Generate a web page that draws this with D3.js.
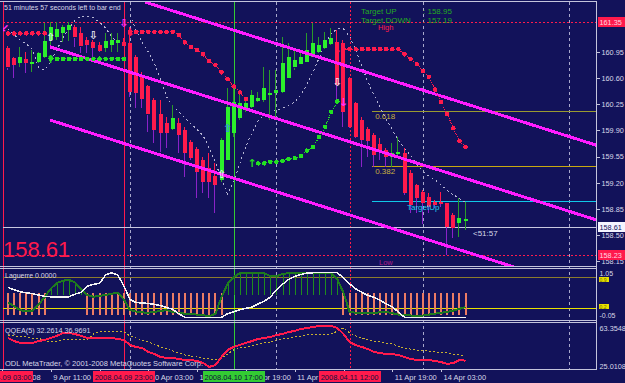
<!DOCTYPE html>
<html>
<head>
<meta charset="utf-8">
<script src="https://cdnjs.cloudflare.com/ajax/libs/d3/7.8.5/d3.min.js"></script>
<style>
  body { margin: 0; background: #12125a; overflow: hidden; }
  svg { display: block; shape-rendering: crispEdges; }
  text { font-family: 'Liberation Sans', Arial, sans-serif; font-size: 7.5px; fill: #d8d8e8; }
</style>
</head>
<body>
<div id="chart"></div>
<script>
// ---- hourly bars, 9 Apr 04:00 .. 14 Apr 07:00 ----
var barOpen = [161.00,160.87,160.80,160.86,160.81,160.82,160.88,161.11,161.15,161.20,161.24,161.28,161.20,161.11,161.08,161.04,161.00,161.04,161.07,161.08,
               161.07,160.88,160.62,160.49,160.31,160.12,160.00,159.92,160.00,159.91,159.75,159.65,159.50,159.40,159.29,159.24,159.50,159.87,160.07,160.17,
               160.21,160.29,160.31,160.37,160.40,160.41,160.60,160.74,160.78,160.82,160.88,160.95,161.00,161.06,161.08,161.07,160.60,160.27,160.04,159.92,
               159.84,159.72,159.64,159.54,159.58,159.60,159.33,159.17,159.08,159.01,158.94,158.94,158.93,158.77,158.66,158.70];
var barHigh = [161.03,160.88,161.02,160.95,160.98,160.95,161.34,161.35,161.35,161.31,161.35,161.31,161.28,161.15,161.11,161.08,161.20,161.20,161.20,161.14,
               161.28,160.91,160.68,160.51,160.33,160.31,160.08,160.24,160.07,159.95,159.77,159.68,159.54,159.60,159.46,159.80,160.47,160.48,160.41,160.35,
               160.44,160.41,160.75,160.71,160.71,161.15,161.07,160.98,160.95,161.20,161.34,161.15,161.22,161.27,161.24,161.11,160.62,160.28,160.08,159.95,
               159.87,159.80,159.66,159.73,159.81,159.66,159.37,159.19,159.10,159.06,158.97,159.08,158.93,158.79,158.99,158.94];
var barLow  = [160.71,160.60,160.75,160.67,160.68,160.80,160.87,161.04,161.11,161.08,161.10,161.02,160.94,160.94,160.88,160.95,160.95,160.95,160.95,161.02,
               160.35,160.20,160.20,159.88,159.73,159.61,159.66,159.91,159.60,159.28,159.50,158.99,159.06,158.99,158.79,159.21,159.50,159.81,160.04,160.15,
               160.20,160.28,160.28,160.04,160.07,160.40,160.60,160.71,160.78,160.82,160.88,160.94,160.99,161.04,160.28,159.95,159.93,159.80,159.41,159.54,
               159.41,159.50,159.41,159.41,159.54,159.04,158.79,158.79,158.65,158.79,158.86,158.88,158.23,158.46,158.47,158.57];
var barClose = [160.74,160.78,160.88,160.80,160.82,160.94,161.10,161.28,161.26,161.28,161.31,161.14,161.02,161.04,161.00,160.96,161.10,161.11,161.11,161.02,
               160.41,160.40,160.33,160.11,159.91,159.87,159.87,160.07,159.84,159.60,159.53,159.34,159.21,159.21,159.17,159.77,160.21,160.28,160.27,160.27,
               160.37,160.33,160.47,160.40,160.44,160.80,160.88,160.84,160.88,160.98,161.07,161.04,161.11,161.14,160.51,160.15,159.95,159.81,159.77,159.76,
               159.57,159.64,159.54,159.60,159.61,159.06,158.90,158.99,158.93,158.88,158.90,158.91,158.61,158.59,158.73,158.71];

// dotted envelope curves
var dashA = [161.26,161.18,161.11,161.06,160.99,160.74,160.71,160.82,160.98,161.14,161.27,161.38,161.43,161.43,161.41,161.35,161.27,161.16,161.06,null,
             null,null,null,null,null,null,null,null,null,null,null,null,null,null,null,null,null,null,null,null,
             null,null,null,null,null,null,null,null,null,null,null,null,null,null,null,null,null,null,null,null,
             null,null,null,null,null,null,null,null,null,null,null,null,null,null,null,null];
var dashB = [null,null,null,null,null,null,null,null,null,null,null,null,null,null,null,null,null,null,null,null,
             161.45,161.24,161.08,160.95,160.80,160.58,160.35,160.23,160.15,160.07,159.99,159.91,159.83,159.66,159.48,159.24,159.05,159.21,159.46,159.69,
             159.87,160.03,160.11,160.15,160.17,160.20,160.23,160.28,160.37,160.52,160.68,160.87,161.06,161.20,161.26,161.26,161.16,160.98,160.76,160.55,
             160.37,160.21,160.05,159.91,159.77,159.66,159.57,159.45,159.36,159.29,159.24,159.17,159.10,159.04,158.99,158.94];

// trailing stop dots
var sarRed = [161.20,161.20,161.20,161.20,161.20,161.20,161.20,null,null,null,null,null,null,null,null,null,null,null,null,null,
              161.22,161.22,161.22,161.22,161.22,161.22,161.22,161.22,161.18,161.08,161.02,160.98,160.92,160.83,160.78,160.68,160.59,160.49,160.41,160.32,
              null,null,null,null,null,null,null,null,null,null,null,null,null,null,null,160.99,160.99,160.99,160.99,160.99,
              160.99,160.99,160.99,160.99,160.99,160.92,160.86,160.79,160.70,160.62,160.45,160.28,160.12,159.93,159.76,159.68];
var sarGreen = [null,null,null,null,null,null,null,160.86,160.86,160.86,160.86,160.86,160.86,160.86,160.86,160.86,160.86,160.86,160.86,160.86,
                null,null,null,null,null,null,null,null,null,null,null,null,null,null,null,null,null,null,null,null,
                null,159.46,159.46,159.48,159.48,159.49,159.52,159.53,159.56,159.63,159.68,159.81,159.95,160.15,160.29,null,null,null,null,null,
                null,null,null,null,null,null,null,null,null,null,null,null,null,null,null,null];

// Laguerre pane
var lagWhite = [0.67,0.62,0.57,0.55,0.53,0.50,0.47,0.46,0.46,0.46,0.46,0.52,0.56,0.70,0.74,0.76,0.95,1.00,0.95,0.70,
                0.40,0.33,0.32,0.31,0.29,0.26,0.22,0.18,0.08,0,0,0,0,0,0,0,0.08,0.12,0.17,0.20,
                0.23,0.30,0.36,0.45,0.62,0.74,0.85,0.92,0.96,0.99,1,1,1,1,1,0.88,0.75,0.64,0.56,0.49,
                0.45,0.38,0.30,0.23,0.12,0,0,0,0,0,0,0,0,0,0,0];
var lagGreen = [0.33,0.25,0.16,0.13,0.14,0.28,0.45,0.64,0.77,0.82,0.84,0.78,0.62,0.50,0.46,0.48,0.50,0.53,0.55,0.40,
                0.16,0.13,0.11,0.10,0.12,0.14,0.16,0.12,0.10,0.08,0.07,0.06,0.05,0.02,0.08,0.45,0.75,0.90,0.99,0.99,
                0.99,0.99,0.99,0.92,0.92,0.97,0.99,0.99,0.99,0.99,0.99,0.99,0.99,0.99,0.85,0.55,0.12,0.10,0.10,0.10,
                0.10,0.11,0.12,0.09,0.06,0.05,0.04,0.03,0.04,0.06,0.08,0.10,0.12,0.15,0.19,0.23];
var lagLevels = [0.9, 0.2];

// QQEA pane
var qqeRed = [52.0,49.4,47.7,47.7,47.7,49.4,50.3,52.0,53.8,56.4,56.4,55.5,53.8,52.0,52.0,52.0,52.0,52.0,51.2,50.3,
              45.9,44.2,43.3,39.8,38.1,35.5,34.6,34.6,33.7,32.9,32.9,32.0,30.2,26.8,28.5,35.5,41.6,44.2,45.9,47.7,
              49.4,51.2,52.0,52.9,54.6,55.5,57.3,58.1,59.9,60.7,61.6,62.5,62.5,62.5,60.7,55.5,48.6,45.9,44.2,42.4,
              39.8,39.0,38.1,38.1,37.2,35.5,33.7,32.9,32.9,32.9,32.0,31.1,29.4,30.2,32.9,32.2614];
var qqeYellow = [53.8,53.8,52.9,52.9,52.0,52.0,49.4,48.5,49.4,50.3,50.3,50.3,50.3,50.3,55.5,57.3,57.3,57.3,57.3,57.3,
                 53.8,52.0,50.3,48.5,46.8,44.2,42.4,40.7,39.0,37.2,36.3,35.5,34.6,33.7,32.9,34.6,38.1,41.6,43.3,44.2,
                 45.0,46.8,47.7,48.5,50.3,51.2,52.0,52.9,53.8,54.6,55.5,55.5,55.5,55.5,58.1,60.7,56.4,53.8,52.0,50.3,
                 49.4,48.5,47.7,46.8,45.0,43.3,42.4,41.6,40.7,40.7,39.8,39.8,39.0,38.1,37.2,36.9691];

// levels and objects
var priceTicks = [160.95, 160.60, 160.25, 159.90, 159.55, 159.20, 158.85, 158.50, 158.15];
var highPrice = 161.35, lowPrice = 158.23, lastPrice = 158.61;
var fibNames = ["0.618", "0.382"];
var fibPrices = [160.16, 159.42];
var fibStartBar = 59.7;
var targetUp = 158.95, targetDown = 157.19;
var channelStart = [[22.46, 161.62], [6.89, 161.02], [6.89, 160.04]];
var channelEnd = [[96.56, 159.70], [96.56, 158.70], [96.56, 157.72]];

// time axis
var tickBars = [-1, 7, 15, 23, 31, 39, 47, 55, 63, 71];
var tickLabels = ["9 Apr 2008", "9 Apr 11:00", "", "10 Apr 03:00", "10 Apr 11:00", "10 Apr 19:00",
                  "11 Apr 03:00", "", "11 Apr 19:00", "14 Apr 03:00"];
var gridBars = [20, 44, 68, 92];
var markBars = [-0.9, 19, 37, 56];
var markLabels = ["2008.04.09 03:00", "2008.04.09 23:00", "2008.04.10 17:00", "2008.04.11 12:00"];
var markColors = ["#ff1a4c", "#ff1a4c", "#33cc33", "#ff1a4c"];
var markDashed = [false, false, false, true];

// signal arrows: bar, price, glyph, colour
var arrows = [
  [7, 161.15, "\u21e7", "#e8e8f4"], [7, 160.86, "\u2191", "#22dd22"], [14, 161.18, "\u21e9", "#e8e8f4"],
  [19, 161.34, "\u21e9", "#ff30ff"], [20, 161.22, "\u2193", "#ff1a4c"], [35, 159.32, "\u21e7", "#e8e8f4"],
  [36, 159.93, "\u21e7", "#3a8ae8"], [40, 159.46, "\u2191", "#22dd22"], [54, 160.99, "\u2193", "#ff1a4c"],
  [54, 160.55, "\u21e9", "#e8e8f4"], [55, 160.28, "\u2193", "#ff30ff"], [-0.6, 161.27, "\u2199", "#ff30ff"]
];

var width = 625, height = 383;
var axisX = 596.5;
var mainTop = 2, mainBottom = 266, lagTop = 268, lagBottom = 320, qqeTop = 322, qqeBottom = 369;

var bullBody = "#2cf02c", bullWick = "#2a9a2a", bearBody = "#ff1a4c", bearWick = "#8a22c8";
var frameColor = "#c4c4dc";

var svg = d3.select("#chart").append("svg")
    .attr("width", width)
    .attr("height", height);
svg.append("rect").attr("width", width).attr("height", height).attr("fill", "#12125a");

var defs = svg.append("defs");
function addClip(id, y0, y1) {
    defs.append("clipPath").attr("id", id)
        .append("rect").attr("x", 3).attr("y", y0).attr("width", axisX - 3).attr("height", y1 - y0);
}
addClip("clipMain", mainTop, mainBottom);
addClip("clipLag", lagTop, lagBottom);
addClip("clipQqe", qqeTop, qqeBottom);

var x = d3.scaleLinear().domain([0, 75]).range([8, 465.5]);
var yPrice = d3.scaleLinear().domain([158.15, 161.35]).range([261.2, 22.2]);
var yLag = d3.scaleLinear().domain([-0.05, 1.05]).range([319.5, 270.5]);
var yQqe = d3.scaleLinear().domain([25.0108, 63.3548]).range([369, 325]);

function px(i) { return Math.round(x(i)) + 0.5; }
function py(v) { return Math.round(yPrice(v)) + 0.5; }
var bars = d3.range(barOpen.length);

// grid and vertical marker lines (through every pane)
var back = svg.append("g");
back.selectAll(".grid").data(gridBars).enter().append("line")
    .attr("x1", function (d) { return px(d); })
    .attr("x2", function (d) { return px(d); })
    .attr("y1", mainTop).attr("y2", qqeBottom)
    .attr("stroke", "#a8a8cc")
    .attr("stroke-dasharray", "3,3");
back.selectAll(".vmark").data(markBars).enter().append("line")
    .attr("x1", function (d) { return px(d); })
    .attr("x2", function (d) { return px(d); })
    .attr("y1", mainTop).attr("y2", qqeBottom)
    .attr("stroke", function (d, i) { return markColors[i]; })
    .attr("stroke-dasharray", function (d, i) { return markDashed[i] ? "2,2" : null; });

// ---------- main price pane ----------
var main = svg.append("g").attr("clip-path", "url(#clipMain)");

main.selectAll(".hl").data([highPrice, lowPrice]).enter().append("line")
    .attr("x1", 3).attr("x2", axisX)
    .attr("y1", function (d) { return py(d); })
    .attr("y2", function (d) { return py(d); })
    .attr("stroke", "#ff1a4c")
    .attr("stroke-dasharray", "2,2");
main.append("line")
    .attr("x1", 3).attr("x2", axisX)
    .attr("y1", py(lastPrice)).attr("y2", py(lastPrice))
    .attr("stroke", "#c8c8e0");

// fibo levels and target
main.selectAll(".fib").data(fibPrices).enter().append("line")
    .attr("x1", x(fibStartBar)).attr("x2", axisX)
    .attr("y1", function (d) { return py(d); })
    .attr("y2", function (d) { return py(d); })
    .attr("stroke", function (d, i) { return i == 0 ? "#9a9a30" : "#c8a810"; });
main.selectAll(".fibText").data(fibPrices).enter().append("text")
    .attr("x", x(fibStartBar) + 3)
    .attr("y", function (d) { return yPrice(d) + 8; })
    .style("fill", "#c8b040")
    .style("font-size", "8px")
    .text(function (d, i) { return fibNames[i]; });
main.append("line")
    .attr("x1", x(fibStartBar)).attr("x2", axisX)
    .attr("y1", py(targetUp)).attr("y2", py(targetUp))
    .attr("stroke", "#10c8e8");

// dotted envelope curves
var curve = d3.line()
    .defined(function (d) { return d[1] != null; })
    .x(function (d) { return x(d[0]); })
    .y(function (d) { return yPrice(d[1]); });
[dashA, dashB].forEach(function (arr) {
    main.append("path")
        .datum(bars.map(function (i) { return [i, arr[i]]; }))
        .attr("d", curve)
        .attr("fill", "none")
        .attr("stroke", "#b4b4d4")
        .attr("stroke-dasharray", "2,3");
});

// candles
function isBull(i) { return barClose[i] >= barOpen[i]; }
var candles = main.append("g");
candles.selectAll(".wickUp").data(bars).enter().append("line")
    .attr("x1", function (i) { return Math.round(x(i)) - 0.5; })
    .attr("x2", function (i) { return Math.round(x(i)) - 0.5; })
    .attr("y1", function (i) { return yPrice(barHigh[i]); })
    .attr("y2", function (i) { return yPrice(Math.max(barOpen[i], barClose[i])); })
    .attr("stroke", function (i) { return isBull(i) ? bullWick : bearBody; });
candles.selectAll(".wickDn").data(bars).enter().append("line")
    .attr("x1", function (i) { return Math.round(x(i)) - 0.5; })
    .attr("x2", function (i) { return Math.round(x(i)) - 0.5; })
    .attr("y1", function (i) { return yPrice(Math.min(barOpen[i], barClose[i])); })
    .attr("y2", function (i) { return yPrice(barLow[i]); })
    .attr("stroke", function (i) { return isBull(i) ? bullWick : bearWick; });
candles.selectAll(".body").data(bars).enter().append("rect")
    .attr("x", function (i) { return Math.round(x(i)) - 2; })
    .attr("width", 4)
    .attr("y", function (i) { return Math.round(yPrice(Math.max(barOpen[i], barClose[i]))); })
    .attr("height", function (i) {
        return Math.max(2, Math.round(Math.abs(yPrice(barOpen[i]) - yPrice(barClose[i]))));
    })
    .attr("fill", function (i) { return isBull(i) ? bullBody : bearBody; });

// regression channel
main.selectAll(".chan").data(channelStart).enter().append("line")
    .attr("x1", function (d) { return x(d[0]); })
    .attr("y1", function (d) { return yPrice(d[1]); })
    .attr("x2", function (d, i) { return x(channelEnd[i][0]); })
    .attr("y2", function (d, i) { return yPrice(channelEnd[i][1]); })
    .attr("stroke", "#ff1cff")
    .attr("stroke-width", 3);

main.append("text")
    .attr("x", 407).attr("y", yPrice(targetUp) + 9)
    .style("fill", "#20d0f0")
    .style("font-size", "8px")
    .text("TargetUp");

// trailing stop dots
function drawDots(arr, color) {
    main.append("path")
        .datum(bars.map(function (i) { return [i, arr[i]]; }))
        .attr("d", curve)
        .attr("fill", "none")
        .attr("stroke", color)
        .attr("stroke-dasharray", "1,1");
    main.selectAll(null).data(bars.filter(function (i) { return arr[i] != null; })).enter().append("circle")
        .attr("cx", function (i) { return x(i); })
        .attr("cy", function (i) { return yPrice(arr[i]); })
        .attr("r", 2.3)
        .attr("fill", color);
}
drawDots(sarRed, "#ff1a4c");
drawDots(sarGreen, "#22e022");

// arrows
main.selectAll(".arrow").data(arrows).enter().append("text")
    .attr("x", function (d) { return x(d[0]); })
    .attr("y", function (d) { return yPrice(d[1]) + 4; })
    .attr("text-anchor", "middle")
    .style("font-family", "'DejaVu Sans', sans-serif")
    .style("font-size", "11px")
    .style("font-weight", "bold")
    .style("fill", function (d) { return d[3]; })
    .text(function (d) { return d[2]; });

// chart texts
svg.append("text").attr("x", 4).attr("y", 9.5).style("font-size", "7px")
    .text("51 minutes 57 seconds left to bar end");
svg.append("text").attr("x", 361).attr("y", 13.5).style("fill", "#22aa22").style("font-size", "8px").text("Target UP");
svg.append("text").attr("x", 423).attr("y", 13.5).style("fill", "#22aa22").style("font-size", "8px").text(": " + targetUp.toFixed(2));
svg.append("text").attr("x", 361).attr("y", 23).style("fill", "#22aa22").style("font-size", "8px").text("Target DOWN");
svg.append("text").attr("x", 423).attr("y", 23).style("fill", "#22aa22").style("font-size", "8px").text(": " + targetDown.toFixed(2));
svg.append("text").attr("x", 378).attr("y", 29.5).style("fill", "#ff1a4c").text("High");
svg.append("text").attr("x", 379).attr("y", 264.5).style("fill", "#b0208a").text("Low");
svg.append("text").attr("x", 473).attr("y", 236).style("font-size", "8px").text("<51:57");
svg.append("text").attr("x", 3).attr("y", 256.5)
    .style("font-size", "22px")
    .style("fill", "#ff1a4c")
    .text(lastPrice.toFixed(2));

// ---------- Laguerre pane ----------
var lag = svg.append("g").attr("clip-path", "url(#clipLag)");
lag.selectAll(".lvl").data(lagLevels).enter().append("line")
    .attr("x1", 3).attr("x2", axisX)
    .attr("y1", function (d) { return Math.round(yLag(d)) + 0.5; })
    .attr("y2", function (d) { return Math.round(yLag(d)) + 0.5; })
    .attr("stroke", function (d, i) { return i == 0 ? "#8c7c2c" : "#e8e000"; });
lag.selectAll(".histHi").data(bars.filter(function (i) { return lagGreen[i] >= 0.6; })).enter().append("line")
    .attr("x1", function (i) { return px(i); })
    .attr("x2", function (i) { return px(i); })
    .attr("y1", yLag(0.5))
    .attr("y2", function (i) { return yLag(lagGreen[i]); })
    .attr("stroke", "#1e8c1e")
    .attr("stroke-width", 1.5);
lag.selectAll(".histLo").data(bars.filter(function (i) { return lagGreen[i] < 0.6; })).enter().append("rect")
    .attr("x", function (i) { return Math.round(x(i)) - 1; })
    .attr("width", 2)
    .attr("y", yLag(0.54))
    .attr("height", yLag(0.05) - yLag(0.54))
    .attr("fill", "#ec7c64");
var lagLine = d3.line().x(function (d, i) { return x(i); }).y(function (d) { return yLag(d); });
lag.append("path").datum(lagGreen).attr("d", lagLine)
    .attr("fill", "none").attr("stroke", "#1e7a1e").attr("stroke-width", 2);
lag.append("path").datum(lagWhite).attr("d", lagLine)
    .attr("fill", "none").attr("stroke", "#f4f4f4").attr("stroke-width", 1.5);
svg.append("text").attr("x", 5).attr("y", 278).style("font-size", "7px").text("Laguerre 0.0000");

// ---------- QQEA pane ----------
var qqe = svg.append("g").attr("clip-path", "url(#clipQqe)");
var qqeLine = d3.line().x(function (d, i) { return x(i); }).y(function (d) { return yQqe(d); });
qqe.append("path").datum(qqeYellow).attr("d", qqeLine)
    .attr("fill", "none").attr("stroke", "#c8b030").attr("stroke-dasharray", "2,2");
qqe.append("path").datum(qqeRed).attr("d", qqeLine)
    .attr("fill", "none").attr("stroke", "#ff1a4c").attr("stroke-width", 2);
svg.append("text").attr("x", 5).attr("y", 333).style("font-size", "7.2px")
    .text("QQEA(5) " + qqeRed[qqeRed.length - 1].toFixed(4) + " " + qqeYellow[qqeYellow.length - 1].toFixed(4));
svg.append("text").attr("x", 5).attr("y", 366)
    .text("ODL MetaTrader, \u00a9 2001-2008 MetaQuotes Software Corp.");

// ---------- frames ----------
var frame = svg.append("g").attr("stroke", frameColor);
[1.5, 266.5, 268.5, 320.5, 322.5, 369.5].forEach(function (yy) {
    frame.append("line").attr("x1", 0).attr("x2", axisX).attr("y1", yy).attr("y2", yy);
});
frame.append("line").attr("x1", axisX).attr("x2", axisX).attr("y1", 1.5).attr("y2", 369.5);

// ---------- right price axis ----------
var gP = svg.append("g")
    .attr("transform", "translate(" + axisX + ",0)")
    .call(d3.axisRight(yPrice).tickValues(priceTicks).tickFormat(d3.format(".2f")).tickSize(3).tickPadding(2));
gP.select(".domain").remove();
gP.selectAll("line").attr("stroke", frameColor);
gP.selectAll("text").style("font-size", "7.3px").style("fill", "#d8d8e8");

function valueBox(v, label, bg, fg) {
    var yy = Math.round(yPrice(v));
    svg.append("rect").attr("x", axisX + 1).attr("y", yy - 5).attr("width", width - axisX).attr("height", 10).attr("fill", bg);
    svg.append("text").attr("x", axisX + 3).attr("y", yy + 3).style("font-size", "7.3px").style("fill", fg).text(label);
}
valueBox(highPrice, highPrice.toFixed(2), "#ff1a4c", "#ffd8e0");
valueBox(lastPrice, lastPrice.toFixed(2), "#f4f4ff", "#12125a");
valueBox(lowPrice, lowPrice.toFixed(2), "#ff1a4c", "#ffd8e0");

// indicator scale labels
svg.append("text").attr("x", axisX + 3).attr("y", yLag(1.05) + 5).style("font-size", "7px").text("1.05");
svg.append("text").attr("x", axisX + 3).attr("y", yLag(-0.05) - 1.5).style("font-size", "7px").text("-0.05");
lagLevels.forEach(function (d, i) {
    var yy = Math.round(yLag(d)) + (i == 0 ? 0 : -4);
    svg.append("rect").attr("x", axisX + 2).attr("y", yy).attr("width", 10).attr("height", 5).attr("fill", "#e8e000");
    svg.append("text").attr("x", axisX + 3).attr("y", yy + 4.5).style("font-size", "5px").style("fill", "#6a6a00").text(d.toFixed(1));
});
svg.append("text").attr("x", axisX + 3).attr("y", yQqe(63.3548) + 6).style("font-size", "7.3px").text("63.3548");
svg.append("text").attr("x", axisX + 3).attr("y", yQqe(25.0108) - 0.5).style("font-size", "7.3px").text("25.0108");

// ---------- time axis ----------
var gT = svg.append("g")
    .attr("transform", "translate(0," + qqeBottom + ")")
    .call(d3.axisBottom(x).tickValues(tickBars).tickFormat(function (d, i) { return tickLabels[i]; }).tickSize(3));
gT.select(".domain").remove();
gT.selectAll("line").attr("stroke", frameColor);
gT.selectAll("text")
    .attr("text-anchor", "start")
    .attr("x", 2)
    .attr("y", 6)
    .style("fill", "#d8d8e8");

markBars.forEach(function (b, i) {
    var t = svg.append("text")
        .attr("x", x(b)).attr("y", 380)
        .attr("text-anchor", "middle")
        .style("fill", "#10103a")
        .text(markLabels[i]);
    var w = t.node().getComputedTextLength() + 4;
    svg.insert("rect", function () { return t.node(); })
        .attr("x", Math.round(x(b) - w / 2)).attr("y", 371)
        .attr("width", Math.round(w)).attr("height", 11)
        .attr("fill", markColors[i]);
});
</script>
</body>
</html>
